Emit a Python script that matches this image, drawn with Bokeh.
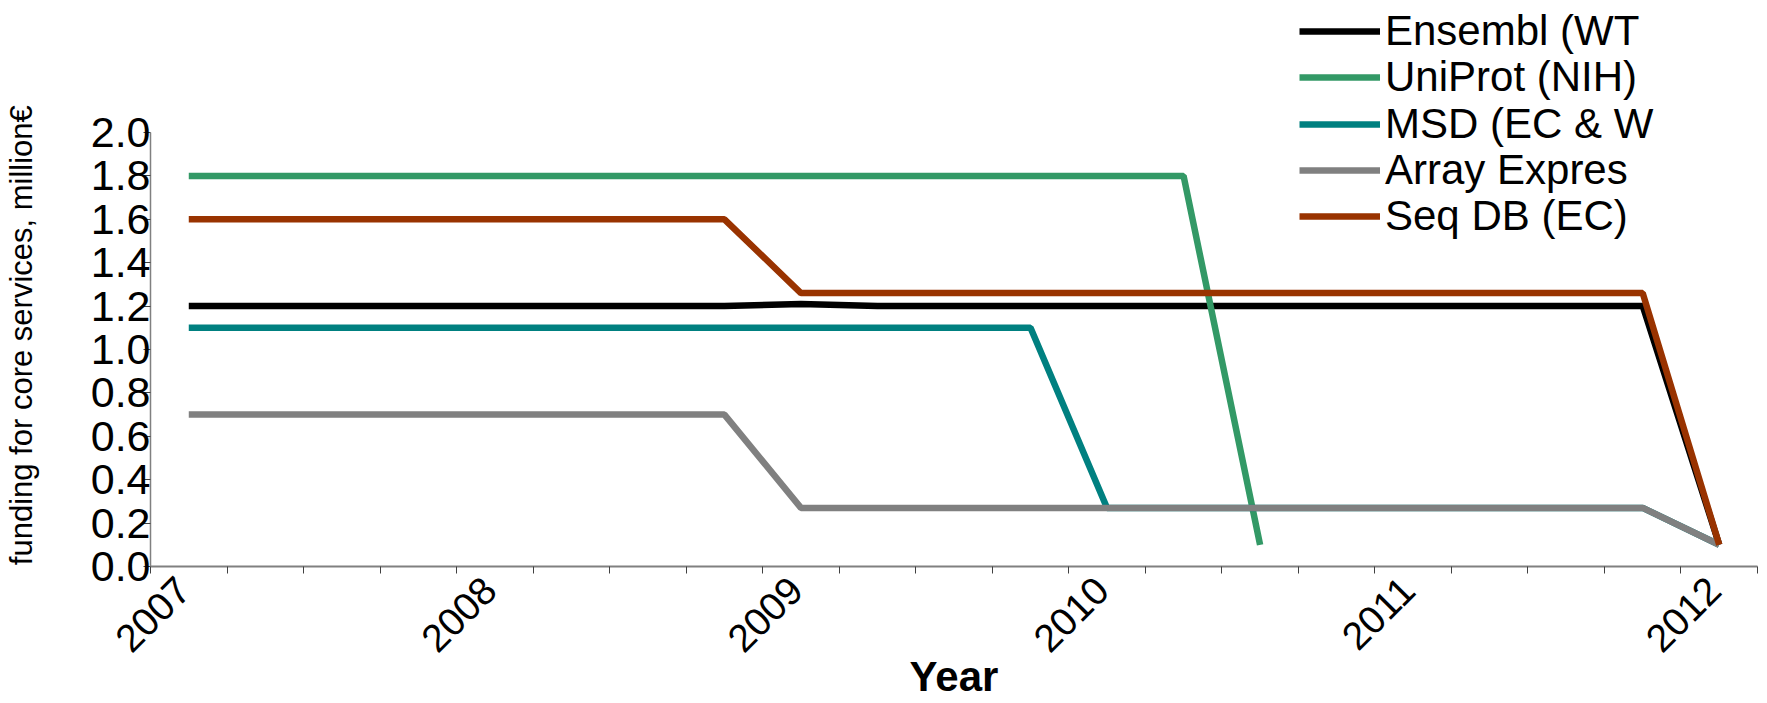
import math
import numpy as np
from bokeh.plotting import figure
from bokeh.models import (Range1d, FixedTicker, PrintfTickFormatter, NumeralTickFormatter,
                          Legend, LegendItem, ColumnDataSource)
from bokeh.embed import file_html
from bokeh.resources import INLINE

# ---------------- data ----------------
periods = ["2007 Q1", "2007 Q2", "2007 Q3", "2007 Q4",
           "2008 Q1", "2008 Q2", "2008 Q3", "2008 Q4",
           "2009 Q1", "2009 Q2", "2009 Q3", "2009 Q4",
           "2010 Q1", "2010 Q2", "2010 Q3", "2010 Q4",
           "2011 Q1", "2011 Q2", "2011 Q3", "2011 Q4",
           "2012 Q1"]

ensembl = [1.20, 1.20, 1.20, 1.20, 1.20, 1.20, 1.20, 1.20, 1.21, 1.20, 1.20,
           1.20, 1.20, 1.20, 1.20, 1.20, 1.20, 1.20, 1.20, 1.20, 0.10]
uniprot = [1.80, 1.80, 1.80, 1.80, 1.80, 1.80, 1.80, 1.80, 1.80, 1.80, 1.80,
           1.80, 1.80, 1.80, 0.10, None, None, None, None, None, None]
msd = [1.10, 1.10, 1.10, 1.10, 1.10, 1.10, 1.10, 1.10, 1.10, 1.10, 1.10,
       1.10, 0.27, 0.27, 0.27, 0.27, 0.27, 0.27, 0.27, 0.27, 0.10]
array_express = [0.70, 0.70, 0.70, 0.70, 0.70, 0.70, 0.70, 0.70, 0.27, 0.27, 0.27,
                 0.27, 0.27, 0.27, 0.27, 0.27, 0.27, 0.27, 0.27, 0.27, 0.10]
seq_db = [1.60, 1.60, 1.60, 1.60, 1.60, 1.60, 1.60, 1.60, 1.26, 1.26, 1.26,
          1.26, 1.26, 1.26, 1.26, 1.26, 1.26, 1.26, 1.26, 1.26, 0.10]

series_names = ["Ensembl (WT", "UniProt (NIH)", "MSD (EC & W", "Array Expres", "Seq DB (EC)"]
series_colors = ["#000000", "#339966", "#008080", "#808080", "#993300"]

year_labels = ["2007", "2008", "2009", "2010", "2011", "2012"]
y_ticks = [0.0, 0.2, 0.4, 0.6, 0.8, 1.0, 1.2, 1.4, 1.6, 1.8, 2.0]

x_title = "Year"
y_title = "funding for core services, million€"

# ---------------- layout constants ----------------
FONT = "Liberation Sans"
W, H = 1767, 703
BORDER_LEFT, BORDER_RIGHT, BORDER_BOTTOM = 149, 10, 137
AXIS_TOP_PX = 132          # pixel row (from frame top) where the y axis ends (2.0)


def period_pos(p):
    y, q = p.split(" Q")
    return int(y) + (int(q) - 0.5) / 4.0


xs = [period_pos(p) for p in periods]
first_year = int(year_labels[0])
quarter_bounds = [first_year + 0.25 * k for k in range(len(periods) + 1)]
label_ticks = [round(int(y) + 0.108, 3) for y in year_labels]

frame_h = H - BORDER_BOTTOM
y_top = y_ticks[-1] * frame_h / (frame_h - AXIS_TOP_PX)

p = figure(width=W, height=H, output_backend="svg", toolbar_location=None,
           x_range=Range1d(first_year, quarter_bounds[-1]), y_range=Range1d(y_ticks[0], y_top))
p.min_border = 0
p.min_border_left = BORDER_LEFT
p.min_border_right = BORDER_RIGHT
p.min_border_top = 0
p.min_border_bottom = BORDER_BOTTOM
p.outline_line_color = None
p.grid.visible = False
p.background_fill_color = "white"
p.border_fill_color = "white"

# x axis
xa = p.xaxis[0]
xa.ticker = FixedTicker(ticks=label_ticks, minor_ticks=quarter_bounds)
xa.formatter = PrintfTickFormatter(format="%d")
xa.major_tick_out = 0
xa.major_tick_in = 0
xa.minor_tick_out = 7
xa.minor_tick_in = 0
xa.minor_tick_line_color = "#404040"
xa.minor_tick_line_width = 1
xa.axis_line_color = "#808080"
xa.axis_line_width = 2
xa.major_label_orientation = math.pi / 4
xa.major_label_standoff = 10
xa.major_label_text_font = FONT
xa.major_label_text_font_size = "39px"
xa.major_label_text_color = "black"
xa.axis_label = x_title
xa.axis_label_text_font = FONT
xa.axis_label_text_font_size = "42px"
xa.axis_label_text_font_style = "bold"
xa.axis_label_text_color = "black"
xa.axis_label_standoff = -14

# y axis
ya = p.yaxis[0]
ya.bounds = (y_ticks[0], y_ticks[-1])
ya.ticker = FixedTicker(ticks=y_ticks, minor_ticks=[])
ya.formatter = NumeralTickFormatter(format="0.0")
ya.major_tick_out = 7
ya.major_tick_in = 0
ya.minor_tick_out = 0
ya.minor_tick_in = 0
ya.major_tick_line_color = "#404040"
ya.axis_line_color = "#808080"
ya.axis_line_width = 1.5
ya.major_label_standoff = -7
ya.major_label_text_font = FONT
ya.major_label_text_font_size = "43px"
ya.major_label_text_color = "black"

# the label is centred on the (taller) frame; trailing no-break spaces move
# the visible words down towards the middle of the 0-2.0 axis, as in the reference
ya.axis_label = y_title + "\u00a0" * 12
ya.axis_label_text_font = FONT
ya.axis_label_text_font_size = "31px"
ya.axis_label_text_font_style = "normal"
ya.axis_label_text_color = "black"
ya.axis_label_standoff = 49

# lines
all_series = [ensembl, uniprot, msd, array_express, seq_db]
renderers = []
for vals, color in zip(all_series, series_colors):
    src = ColumnDataSource(dict(x=xs, y=np.array(vals, dtype=float)))
    r = p.line("x", "y", source=src, line_color=color, line_width=6.5)
    renderers.append(r)

# legend: one legend per row so the row pitch can match the reference
row_bottoms = [510, 464, 417, 371, 325]
for name, r, yb in zip(series_names, renderers, row_bottoms):
    lg = Legend(items=[LegendItem(label=name, renderers=[r])], location=(1149, yb))
    lg.padding = 0
    lg.margin = 0
    lg.spacing = 0
    lg.border_line_color = None
    lg.background_fill_alpha = 0
    lg.glyph_width = 81
    lg.glyph_height = 50
    lg.label_height = 50
    lg.label_standoff = 5
    lg.label_text_font = FONT
    lg.label_text_font_size = "42px"
    lg.label_text_color = "black"
    p.add_layout(lg, "center")

open("out.html", "w").write(file_html(p, INLINE))
